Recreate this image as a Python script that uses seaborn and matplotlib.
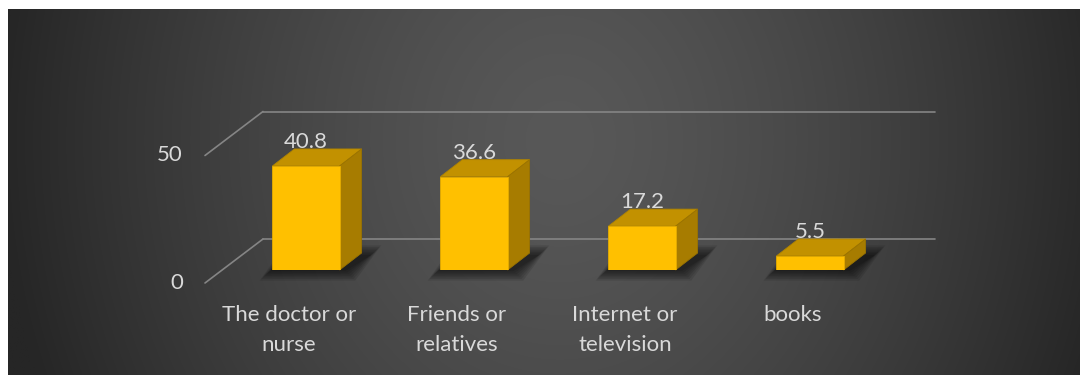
import numpy as np
import pandas as pd
import matplotlib
matplotlib.use("Agg")
import matplotlib.pyplot as plt
import seaborn as sns
from matplotlib.patches import Polygon

# ---- data ----
categories = ["The doctor or\nnurse", "Friends or\nrelatives", "Internet or\ntelevision", "books"]
values = [40.8, 36.6, 17.2, 5.5]
y_ticks = [0, 50]
value_labels = ["40.8", "36.6", "17.2", "5.5"]

sns.set_style("white")
plt.rcParams["font.family"] = ["Lato", "DejaVu Sans"]

W, H = 1080, 375
fig = plt.figure(figsize=(W / 100, H / 100), dpi=100, facecolor="white")

# ---- radial gradient background ----
bg = fig.add_axes([8 / W, 0, 1 - 8 / W, 1 - 9 / H])
bg.axis("off")
ny, nx = 200, 600
yy, xx = np.mgrid[0:ny, 0:nx]
px = xx / (nx - 1) * (W - 8) + 8
py = yy / (ny - 1) * (H - 9) + 9
r = np.sqrt(((px - 560) / 560) ** 2 + ((py - 140) / 650) ** 2)
r = np.clip(r, 0, 1)
c = (0x58 - (0x58 - 0x26) * r ** 1.4) / 255.0
img = np.dstack([c, c, c])
bg.imshow(img, aspect="auto", extent=[0, 1, 1, 0], interpolation="bilinear")
bg.set_xlim(0, 1)
bg.set_ylim(1, 0)

# ---- main axes (bar front plane) ----
ax = fig.add_axes([222 / W, (H - 270) / H, 672 / W, 127.5 / H])
ax.patch.set_alpha(0)
df = pd.DataFrame({"cat": categories, "val": values})
sns.barplot(data=df, x="cat", y="val", color="#FFC000", saturation=1, width=0.4,
            ax=ax, zorder=5, edgecolor="#E5AC00", linewidth=0.6)
ax.set_xlim(-0.5, len(categories) - 0.5)
ax.set_ylim(0, 50)
ax.axis("off")

fig.canvas.draw()


def shift(x, y, dpx, dpy):
    X, Y = ax.transData.transform((x, y))
    return tuple(ax.transData.inverted().transform((X + dpx, Y + dpy)))


DX, DY = 22, 17          # bar depth (pixels)
WX, WY = 41, 31          # back wall offset
FX, FY = -17, -13        # front edge offset
grid_col = "#858585"
txt_col = "#D9D9D9"
fs = 16
xmin, xmax = -0.5, len(categories) - 0.5

# gridlines on back wall + floor/side diagonals
for v in y_ticks:
    p0 = shift(xmin, v, WX, WY)
    p1 = shift(xmax, v, WX, WY)
    ax.plot([p0[0], p1[0]], [p0[1], p1[1]], color=grid_col, lw=1.2, zorder=1, clip_on=False)
    f0 = shift(xmin, v, FX, FY)
    ax.plot([f0[0], p0[0]], [f0[1], p0[1]], color=grid_col, lw=1.2, zorder=1, clip_on=False)
    t = shift(xmin, v, FX - 22, FY)
    ax.text(t[0], t[1], str(v), ha="right", va="center", color=txt_col, fontsize=fs)

# 3D faces, shadows, labels
bars = list(ax.patches)
for bar, lab in zip(bars, value_labels):
    x0 = bar.get_x()
    w = bar.get_width()
    h = bar.get_height()
    # shadow
    for k in range(7):
        e = k * 1.6
        pts = [shift(x0, 0, -e - 3, -e - 1), shift(x0 + w, 0, e + 6, -e - 1),
               shift(x0 + w, 0, DX + e + 10, DY + e - 2), shift(x0, 0, DX - e, DY + e - 2)]
        ax.add_patch(Polygon(pts, closed=True, facecolor="black", alpha=0.10,
                             edgecolor="none", zorder=2, clip_on=False))
    top = [(x0, h), (x0 + w, h), shift(x0 + w, h, DX, DY), shift(x0, h, DX, DY)]
    side = [(x0 + w, 0), (x0 + w, h), shift(x0 + w, h, DX, DY), shift(x0 + w, 0, DX, DY)]
    ax.add_patch(Polygon(top, closed=True, facecolor="#C29100", edgecolor="#B08400",
                         lw=0.6, zorder=4, clip_on=False))
    ax.add_patch(Polygon(side, closed=True, facecolor="#A77C00", edgecolor="#9A7300",
                         lw=0.6, zorder=4, clip_on=False))
    lp = shift(x0 + w / 2, h, 0, DY + 1)
    ax.text(lp[0], lp[1], lab, ha="center", va="baseline", color=txt_col,
            fontsize=fs, zorder=6)

# category labels (front plane); va='baseline' anchors the last line
line_px = 30
for i, cat in enumerate(categories):
    n = cat.count("\n") + 1
    p = shift(i, 0, FX, -51 - line_px * (n - 1))
    ax.text(p[0], p[1], cat, ha="center", va="baseline", color=txt_col,
            fontsize=fs, linespacing=1.6, multialignment="center")

fig.savefig("out.png", dpi=100, facecolor="white")
